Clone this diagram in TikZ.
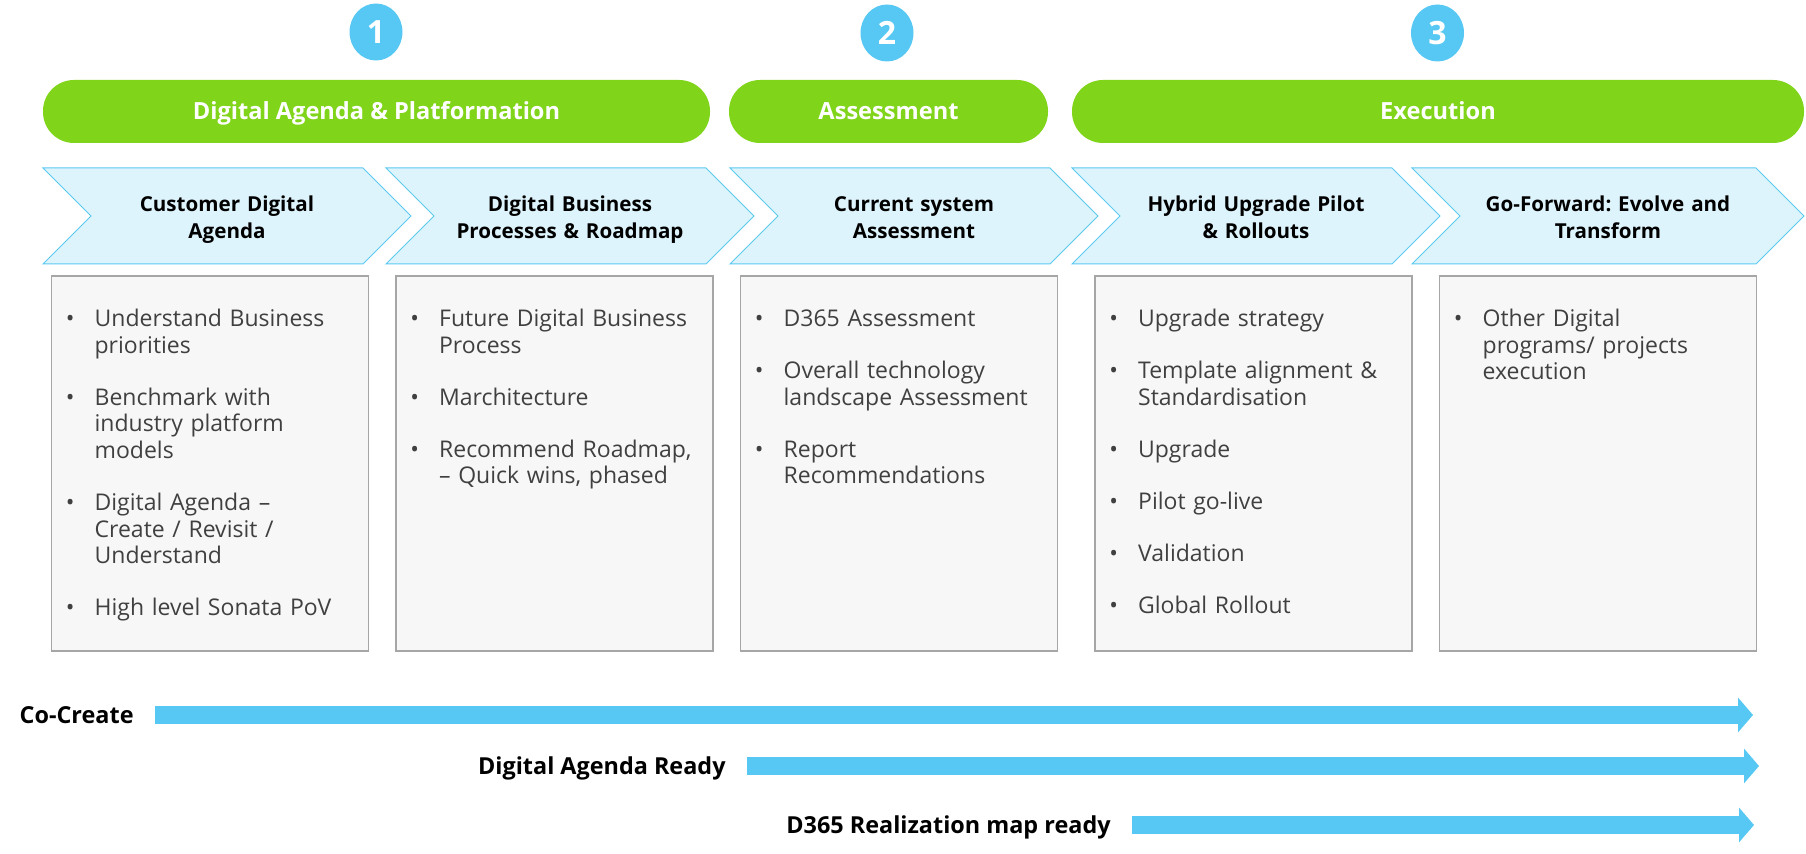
\documentclass[tikz,border=0pt]{standalone}
\usepackage{fontspec}
\setmainfont{Open Sans}
\usepackage{tikz}
\usetikzlibrary{positioning, arrows.meta, shapes.geometric, shapes.symbols}
\definecolor{skyblue}{HTML}{56C8F3}
\definecolor{leafgreen}{HTML}{80D41A}
\definecolor{chevbg}{HTML}{DEF4FC}
\definecolor{chevline}{HTML}{5CC9F1}
\definecolor{boxbg}{HTML}{F7F7F7}
\definecolor{boxline}{HTML}{A6A6A6}
\definecolor{bodygray}{HTML}{404040}
\newcommand\bitem[1]{\noindent\makebox[14.4pt][l]{\textbullet}\parbox[t]{150pt}{\strut#1\strut}\par
  \prevdepth=\dp\strutbox\vspace{12.65pt}}
\tikzset{
  stepnum/.style={
    ellipse, fill=skyblue,
    minimum width=26.5pt, minimum height=28.5pt, inner sep=0pt,
    text=white, font=\fontsize{16}{16}\selectfont\bfseries
  },
  phasebar/.style={
    fill=leafgreen, rounded corners=15.5pt,
    minimum height=31.5pt, inner sep=0pt,
    text height=8.35pt, text depth=0pt,
    text=white, font=\fontsize{11.8}{14}\selectfont\bfseries
  },
  chevron/.style={
    shape=signal, signal from=west, signal to=east, signal pointer angle=90,
    draw=chevline, line width=0.5pt, fill=chevbg,
    minimum width=184pt, minimum height=48pt, inner sep=0pt,
    text width=130pt, align=center,
    font=\fontsize{10.3}{13.35}\selectfont\bfseries\frenchspacing,
    execute at begin node={\rule{0pt}{11.85pt}},
    execute at end node={\rule[-2.8pt]{0pt}{2.8pt}}
  },
  actbox/.style={
    draw=boxline, line width=0.75pt, fill=boxbg,
    minimum width=158.5pt, minimum height=187.5pt
  },
  acttext/.style={
    text width=165pt, inner sep=0pt, align=left, text=bodygray,
    font=\fontsize{11.5}{13.35}\selectfont
  },
  lbl/.style={
    inner sep=0pt, text height=8.35pt, text depth=0pt,
    font=\fontsize{11.7}{14}\selectfont\bfseries
  },
  bigarrow/.style={
    draw=skyblue, line width=9pt,
    -{Triangle[width=17pt, length=7.5pt]}
  }
}
\begin{document}
\begin{tikzpicture}[x=0.5pt, y=-0.5pt]
  \useasboundingbox (0,0) rectangle (1806,854);

  % Step numbers
  \node[stepnum] (n1) at (376,32) {1};
  \node[stepnum] (n2) at (887,33) {2};
  \node[stepnum] (n3) at (1437.5,33) {3};

  % Phases
  \node[phasebar, minimum width=333.5pt] (p1) at (376.5,111.5) {Digital Agenda \& Platformation};
  \node[phasebar, minimum width=159.5pt] (p2) at (888.5,111.5) {Assessment};
  \node[phasebar, minimum width=366pt] (p3) at (1438,111.5) {Execution};

  % Chevrons
  \node[chevron] (c1) at (227,216) {Customer Digital\\Agenda};
  \node[chevron] (c2) at (570,216) {Digital Business\\Processes \& Roadmap};
  \node[chevron] (c3) at (914,216) {Current system\\Assessment};
  \node[chevron] (c4) at (1256,216) {Hybrid Upgrade Pilot\\\& Rollouts};
  \node[chevron, minimum width=196pt] (c5) at (1608,216) {Go-Forward: Evolve and\\Transform};

  % Activity boxes
  \node[actbox] (b1) at (210,463.5) {};
  \node[actbox] (b2) at (554.5,463.5) {};
  \node[actbox] (b3) at (899,463.5) {};
  \node[actbox] (b4) at (1253.5,463.5) {};
  \node[actbox] (b5) at (1598,463.5) {};

  \node[acttext, below right=16pt and 7.35pt of b1.north west] (t1) {
    \bitem{Understand Business\\priorities}
    \bitem{Benchmark with\\industry platform\\models}
    \bitem{Digital Agenda –\\Create / Revisit /\\Understand}
    \bitem{High level Sonata PoV}
  };
  \node[acttext, below right=16pt and 7.35pt of b2.north west] (t2) {
    \bitem{Future Digital Business\\Process}
    \bitem{Marchitecture}
    \bitem{Recommend Roadmap,\\– Quick wins, phased}
  };
  \node[acttext, below right=16pt and 7.35pt of b3.north west] (t3) {
    \bitem{D365 Assessment}
    \bitem{Overall technology\\landscape Assessment}
    \bitem{Report\\Recommendations}
  };
  \node[acttext, below right=16pt and 7.35pt of b4.north west] (t4) {
    \bitem{Upgrade strategy}
    \bitem{Template alignment \&\\Standardisation}
    \bitem{Upgrade}
    \bitem{Pilot go-live}
    \bitem{Validation}
    \bitem{Global Rollout}
  };
  \node[acttext, below right=16pt and 7.35pt of b5.north west] (t5) {
    \bitem{Other Digital\\programs/ projects\\execution}
  };

  % Engagement arrows
  \coordinate (s1) at (155,715);
  \coordinate (e1) at (1753,715);
  \node[lbl, left=10.5pt of s1] (l1) {Co-Create};
  \draw[bigarrow] (s1) -- (e1);

  \coordinate (s2) at (747,766);
  \coordinate (e2) at (1759,766);
  \node[lbl, left=10.5pt of s2] (l2) {Digital Agenda Ready};
  \draw[bigarrow] (s2) -- (e2);

  \coordinate (s3) at (1132,825);
  \coordinate (e3) at (1754,825);
  \node[lbl, left=10.5pt of s3] (l3) {D365 Realization map ready};
  \draw[bigarrow] (s3) -- (e3);
\end{tikzpicture}
\end{document}
